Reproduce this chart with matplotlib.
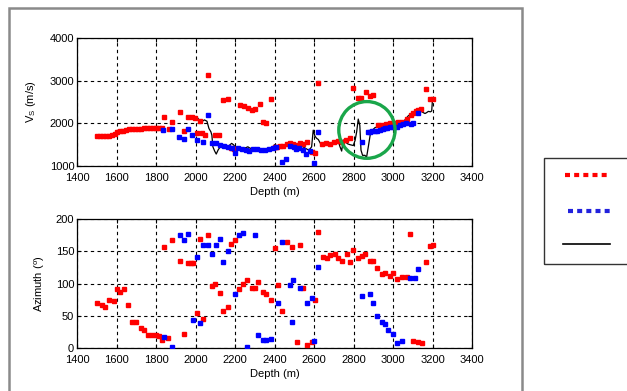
import matplotlib
matplotlib.use("Agg")
import matplotlib.pyplot as plt
from matplotlib.patches import Ellipse, Rectangle
from matplotlib.lines import Line2D

plt.rcParams['font.family'] = ['Liberation Sans', 'DejaVu Sans']
plt.rcParams['mathtext.fontset'] = 'custom'
plt.rcParams['mathtext.rm'] = 'Liberation Sans'
plt.rcParams['mathtext.it'] = 'Liberation Sans'

# ---- top panel: shear velocity ----
vs_red_depth = [1500, 1515, 1530, 1545, 1560, 1575, 1590, 1605, 1620, 1635, 1650, 1665, 1680, 1695,
                1710, 1725, 1740, 1755, 1770, 1785, 1800, 1815, 1830, 1842, 1865, 1881, 1921, 1942,
                1962, 1982, 1995, 2007, 2023, 2035, 2050, 2063, 2099, 2120, 2140, 2166, 2180, 2195,
                2225, 2245, 2265, 2285, 2300, 2325, 2342, 2359, 2380, 2400, 2415, 2430, 2445, 2463,
                2480, 2495, 2515, 2530, 2545, 2563, 2590, 2605, 2620, 2640, 2660, 2680, 2700, 2720,
                2740, 2760, 2782, 2795, 2825, 2840, 2862, 2885, 2900, 2925, 2945, 2965, 2985, 3005,
                3025, 3045, 3069, 3090, 3103, 3115, 3128, 3140, 3167, 3185, 3205]
vs_red = [1700, 1700, 1695, 1700, 1710, 1720, 1740, 1790, 1820, 1830, 1840, 1860, 1870, 1870,
          1875, 1870, 1880, 1890, 1890, 1900, 1895, 1890, 1885, 2150, 1870, 2030, 2265, 1820,
          2140, 2140, 2130, 1780, 2050, 1780, 1720, 3130, 1730, 1730, 2540, 2560, 1420, 1400,
          2430, 2410, 2360, 2320, 2340, 2450, 2030, 2010, 2560, 1450, 1440, 1460, 1470, 1520,
          1530, 1510, 1490, 1540, 1520, 1560, 1320, 1300, 2950, 1520, 1530, 1520, 1560, 1580,
          1570, 1600, 1650, 2835, 2590, 2590, 2730, 2640, 2660, 1960, 1970, 1990, 2000, 2010,
          2020, 2040, 2100, 2200, 2240, 2300, 2310, 2330, 2800, 2570, 2570]

vs_blue_depth = [1837, 1880, 1916, 1942, 1962, 1982, 2007, 2040, 2063, 2083, 2105, 2125, 2145, 2165,
                 2185, 2200, 2215, 2235, 2255, 2270, 2290, 2310, 2330, 2350, 2370, 2390, 2410, 2440,
                 2460, 2480, 2500, 2510, 2525, 2545, 2560, 2580, 2600, 2620, 2841, 2875, 2885, 2895,
                 2909, 2920, 2934, 2947, 2960, 2972, 2985, 3000, 3019, 3035, 3051, 3065, 3090, 3103,
                 3128]
vs_blue = [1840, 1870, 1690, 1630, 1860, 1730, 1600, 1560, 2200, 1530, 1530, 1500, 1480, 1450,
           1420, 1300, 1420, 1400, 1380, 1360, 1400, 1390, 1380, 1380, 1400, 1420, 1450, 1100,
           1160, 1470, 1450, 1400, 1420, 1380, 1280, 1340, 1080, 1790, 1560, 1800, 1800, 1810,
           1820, 1830, 1850, 1870, 1890, 1900, 1910, 1910, 1920, 1950, 1980, 2000, 1990, 2000,
           2240]

log_depth = [2006, 2015, 2029, 2045, 2058, 2068, 2078, 2083, 2088, 2097, 2105, 2115, 2124, 2140,
             2155, 2166, 2175, 2183, 2192, 2200, 2210, 2217, 2230, 2242, 2255, 2265, 2275, 2290,
             2305, 2320, 2335, 2350, 2365, 2380, 2392, 2400, 2410, 2425, 2440, 2455, 2470, 2485,
             2500, 2515, 2529, 2540, 2555, 2570, 2580, 2588, 2596, 2605, 2613, 2622, 2630, 2639,
             2650, 2664, 2680, 2698, 2710, 2723, 2731, 2740, 2748, 2760, 2770, 2782, 2799, 2808,
             2816, 2824, 2832, 2838, 2846, 2858, 2866, 2875, 2887, 2900, 2909, 2925, 2943, 2960,
             2985, 3000, 3019, 3035, 3044, 3055, 3069, 3078, 3086, 3095, 3111, 3125, 3137, 3150,
             3162, 3170, 3179, 3190, 3196, 3200]
log_vs = [2155, 2100, 2030, 2080, 2050, 1880, 1800, 1720, 1450, 1350, 1280, 1380, 1440, 1500,
          1480, 1450, 1500, 1530, 1500, 1450, 1410, 1380, 1390, 1400, 1430, 1450, 1420, 1400,
          1380, 1390, 1380, 1390, 1400, 1420, 1450, 1500, 1460, 1480, 1470, 1490, 1480, 1470,
          1450, 1480, 1500, 1460, 1420, 1380, 1400, 1450, 1840, 1700, 1650, 1620, 1550, 1480,
          1500, 1520, 1510, 1530, 1560, 1580, 1460, 1350, 1610, 1560, 1520, 1500, 1480, 1600,
          1800, 2100, 1950, 1370, 1250, 1250, 1200, 1450, 1800, 1860, 1900, 1920, 1950, 1960,
          1980, 1970, 2000, 2010, 2000, 2050, 2130, 2180, 2200, 2240, 2280, 2270, 2300, 2260,
          2230, 2250, 2280, 2270, 2290, 2560]

# ---- bottom panel: azimuth ----
az_red_depth = [1500, 1525, 1542, 1560, 1585, 1600, 1620, 1640, 1660, 1680, 1700, 1722, 1740, 1760,
                1780, 1800, 1815, 1830, 1842, 1860, 1880, 1921, 1942, 1962, 1975, 1985, 2007, 2023,
                2040, 2063, 2083, 2099, 2124, 2140, 2166, 2180, 2200, 2220, 2242, 2259, 2285, 2300,
                2317, 2342, 2359, 2380, 2400, 2420, 2440, 2463, 2488, 2514, 2530, 2544, 2563, 2588,
                2605, 2622, 2647, 2664, 2681, 2706, 2723, 2740, 2765, 2782, 2799, 2824, 2841, 2858,
                2883, 2900, 2917, 2943, 2960, 2985, 3002, 3019, 3044, 3069, 3086, 3103, 3128, 3145,
                3167, 3185, 3205]
az_red = [69, 67, 64, 74, 73, 92, 87, 92, 67, 40, 40, 31, 28, 20,
          20, 20, 18, 12, 157, 15, 168, 135, 22, 132, 132, 132, 54, 169,
          45, 175, 96, 99, 86, 57, 63, 161, 167, 92, 99, 105, 93, 93,
          102, 87, 83, 74, 155, 97, 57, 164, 157, 10, 160, 93, 5, 9,
          74, 180, 141, 139, 144, 145, 139, 135, 145, 133, 152, 139, 142, 145,
          135, 135, 124, 114, 116, 112, 116, 107, 110, 110, 177, 11, 10, 7,
          133, 158, 160]

az_blue_depth = [1842, 1881, 1921, 1942, 1962, 1985, 2007, 2023, 2040, 2063, 2083, 2105, 2124, 2140,
                 2166, 2200, 2220, 2242, 2259, 2302, 2317, 2342, 2359, 2380, 2420, 2440, 2478, 2488,
                 2495, 2527, 2563, 2588, 2600, 2622, 2841, 2883, 2900, 2917, 2943, 2960, 2977, 3002,
                 3019, 3044, 3086, 3111, 3128]
az_blue = [17, 2, 175, 168, 177, 43, 141, 39, 159, 159, 145, 159, 169, 134,
           151, 83, 175, 178, 2, 175, 20, 12, 12, 14, 70, 164, 97, 40,
           105, 93, 70, 78, 11, 126, 80, 84, 70, 50, 41, 37, 28, 22,
           8, 11, 109, 109, 122]

depth_ticks = list(range(1400, 3401, 200))

fig = plt.figure(figsize=(6.27, 3.91), dpi=100)

# grey outer frame and legend box
fig.patches.append(Rectangle((9 / 627, -0.02), 513 / 627, 1.02 - 8 / 391, transform=fig.transFigure,
                             fill=False, edgecolor='#8a8a8a', lw=1.8))
fig.patches.append(Rectangle((544 / 627, 1 - 264 / 391), 0.2, 106 / 391, transform=fig.transFigure,
                             fill=False, edgecolor='#333333', lw=1.0))
fig.lines.append(Line2D([565 / 627, 609 / 627], [1 - 175 / 391] * 2, transform=fig.transFigure,
                        color='red', ls=(0, (1.2, 1.0)), lw=3.0))
fig.lines.append(Line2D([568 / 627, 612 / 627], [1 - 211 / 391] * 2, transform=fig.transFigure,
                        color='#2222dd', ls=(0, (1.2, 1.0)), lw=3.0))
fig.lines.append(Line2D([563 / 627, 610 / 627], [1 - 244 / 391] * 2, transform=fig.transFigure,
                        color='black', lw=1.2))

ax1 = fig.add_axes([77 / 627, 1 - 166 / 391, 395 / 627, 128 / 391])
ax2 = fig.add_axes([77 / 627, 1 - 348 / 391, 395 / 627, 129 / 391])

ax1.plot(log_depth, log_vs, color='black', lw=0.9, zorder=3)
ax1.plot(vs_red_depth, vs_red, 's', color='red', ms=3.0, mec='red', zorder=4)
ax1.plot(vs_blue_depth, vs_blue, 's', color='blue', ms=3.0, mec='blue', zorder=4)
ax1.add_patch(Ellipse((2868, 1845), 285, 1330, fill=False, edgecolor='#1aa64a', lw=2.4, zorder=5))
ax1.set_xlim(1400, 3400)
ax1.set_ylim(1000, 4000)
ax1.set_yticks([1000, 2000, 3000, 4000])
ax1.set_ylabel('V$_\\mathregular{S}$ (m/s)', fontsize=8, labelpad=8)

ax2.plot(az_red_depth, az_red, 's', color='red', ms=3.0, mec='red', zorder=4)
ax2.plot(az_blue_depth, az_blue, 's', color='blue', ms=3.0, mec='blue', zorder=4)
ax2.set_xlim(1400, 3400)
ax2.set_ylim(0, 200)
ax2.set_yticks([0, 50, 100, 150, 200])
ax2.set_ylabel('Azimuth ($^\\mathregular{o}$)', fontsize=8, labelpad=6)

for ax in (ax1, ax2):
    ax.set_xticks(depth_ticks)
    ax.set_xlabel('Depth (m)', fontsize=8, labelpad=3)
    ax.tick_params(direction='in', length=3, labelsize=8, pad=2, top=True, right=True)
    ax.tick_params(axis='x', pad=5)
    ax.grid(True, color='black', ls=(0, (3, 3)), lw=0.8)
    for s in ax.spines.values():
        s.set_linewidth(0.9)

fig.savefig('out.png', dpi=100)
